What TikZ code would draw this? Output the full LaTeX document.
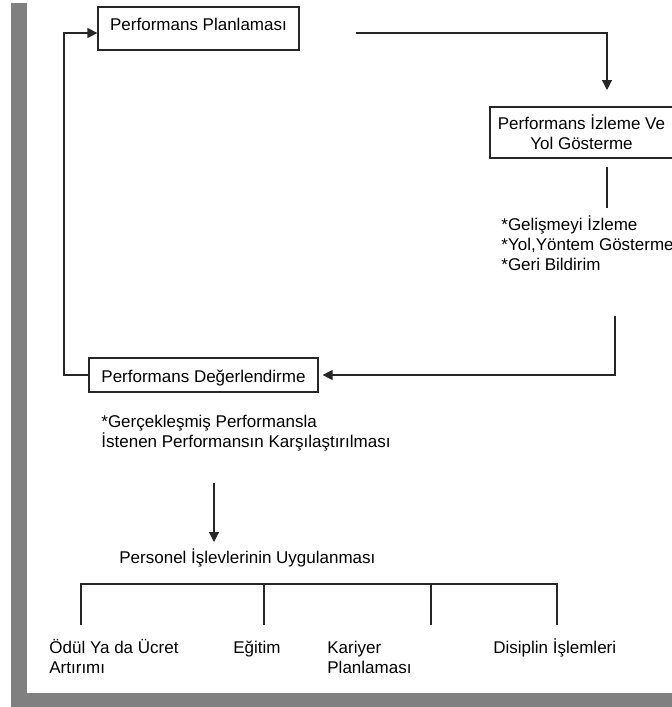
\documentclass[tikz,border=0pt]{standalone}
\usepackage{fontspec}
\setmainfont{Liberation Sans}
\usetikzlibrary{arrows.meta,calc}
\newcommand{\figurefont}{\fontsize{8.5}{10}\selectfont}
\tikzset{
	box/.style={draw=black!85, line width=0.6pt, inner xsep=0pt, inner ysep=0pt},
	txt/.style={anchor=base west, inner sep=0pt, align=left},
	link/.style={line width=0.6pt, draw=black!85},
	arr/.style={link, -{Triangle[length=5pt,width=5pt]}}
}

\begin{document}
\begin{tikzpicture}[x=0.5pt,y=-0.5pt,font=\figurefont]
	\useasboundingbox (0,0) rectangle (672,707);
	% grey frame
	\fill[gray] (11,3) rectangle (27,707);
	\fill[gray] (11,693) rectangle (672,707);

	\node[box, minimum width=100.5pt, text height=11.5pt, text depth=10pt] (plan) at (198.5,28.5) {Performans Planlaması};
	\node[box, minimum width=91.5pt, minimum height=25.5pt, align=center] (izleme) at (581.5,132.5) {Performans İzleme Ve\\Yol Gösterme};
	\node[box, minimum width=114.5pt, text height=12pt, text depth=5pt] (deger) at (203.5,375) {Performans Değerlendirme};

	% base of a multi-line node is its last line
	\node[txt] (izlist) at (501,270) {*Gelişmeyi İzleme\\*Yol,Yöntem Gösterme\\*Geri Bildirim};
	\node[txt] (karsi) at (101,447) {*Gerçekleşmiş Performansla\\İstenen Performansın Karşılaştırılması};
	\node[txt] (personel) at (119,563) {Personel İşlevlerinin Uygulanması};

	\node[txt] (odul) at (49,673) {Ödül Ya da Ücret\\Artırımı};
	\node[txt] (egitim) at (233,653) {Eğitim};
	\node[txt] (kariyer) at (327,673) {Kariyer\\Planlaması};
	\node[txt] (disiplin) at (493,653) {Disiplin İşlemleri};

	\coordinate (planout) at (356,33);
	\coordinate (izin) at (607,90);
	\coordinate (iztop) at (607,167);
	\coordinate (izbot) at (607,208);
	\coordinate (listout) at (615,316);
	\coordinate (loop) at (64,375);
	\coordinate (downtop) at (214,483);
	\coordinate (downtip) at (214,542);

	\draw[arr] (planout) -| (izin);
	\draw[link] (iztop) -- (izbot);
	\draw[arr, shorten >=2pt] (listout) |- (deger.east);
	\draw[arr] (deger.west) -- (loop) |- ([yshift=-2.25pt]plan.west);
	\draw[arr] (downtop) -- (downtip);

	% branches
	\draw[link] (81,625) |- (557,584) -- (557,625);
	\foreach \x in {264,431}
		\draw[link] (\x,584) -- (\x,625);
\end{tikzpicture}
\end{document}
